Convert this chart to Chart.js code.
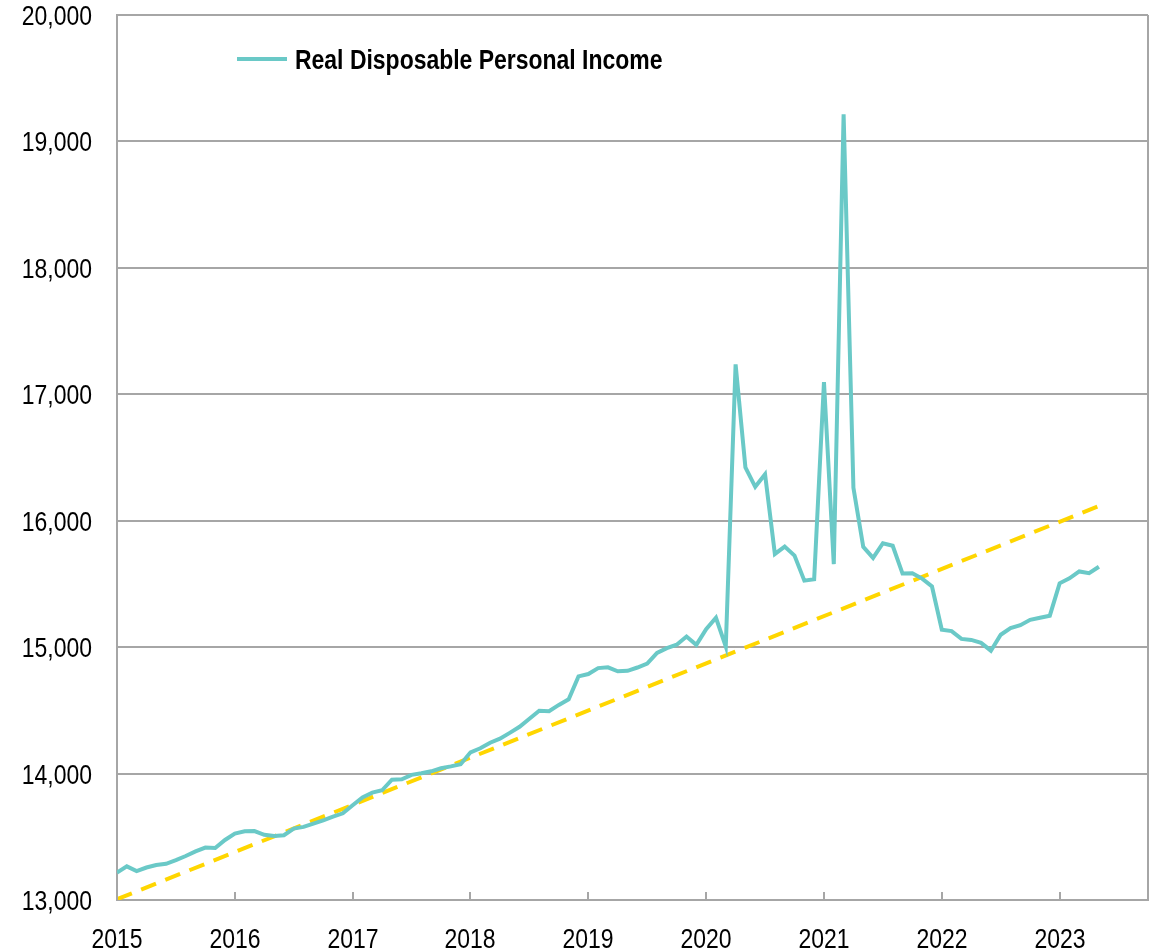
<!DOCTYPE html>
<html>
<head>
<meta charset="utf-8">
<title>Real Disposable Personal Income</title>
<script src="https://cdn.jsdelivr.net/npm/chart.js@4.4.1/dist/chart.umd.min.js"></script>
<style>
    html, body { margin: 0; padding: 0; background: #fff; }
    #wrap { width: 1160px; height: 951px; position: relative; }
</style>
</head>
<body>
<div id="wrap"><canvas id="incomeChart"></canvas></div>
<script>
// 数据：2015年1月起的月度数据（索引0 = 2015-01）
const years = ['2015', '2016', '2017', '2018', '2019', '2020', '2021', '2022', '2023'];
const yTicks = [13000, 14000, 15000, 16000, 17000, 18000, 19000, 20000];

const income = [
    13216, 13266, 13229, 13257, 13277, 13286, 13316, 13348, 13385, 13415, 13411, 13475,
    13525, 13543, 13545, 13516, 13506, 13512, 13565, 13578, 13604, 13630, 13659, 13686,
    13750, 13812, 13849, 13868, 13952, 13955, 13990, 14003, 14018, 14042, 14057, 14074,
    14168, 14200, 14244, 14276, 14322, 14370, 14434, 14497, 14493, 14543, 14588, 14769,
    14787, 14834, 14840, 14809, 14813, 14839, 14870, 14955, 14992, 15019, 15084, 15018,
    15142, 15232, 15005, 17237, 16421, 16268, 16368, 15737, 15795, 15724, 15526, 15537,
    17097, 15656, 19214, 16260, 15794, 15706, 15822, 15802, 15582, 15585, 15542, 15480,
    15138, 15127, 15065, 15057, 15034, 14972, 15098, 15150, 15174, 15216, 15233, 15249,
    15505, 15544, 15599, 15585, 15636
];

// 趋势线（虚线）：只给出起点和终点
const trendIndex = [0, 100];
const trendValues = [13006, 16116];

const seriesLabel = 'Real Disposable Personal Income';
const teal = 'rgb(106, 201, 199)';
const gold = 'rgb(255, 214, 0)';
const gridGray = '#a6a6a6';
// 没有 Arial Narrow，用 Liberation Sans 横向压缩代替
const fontFamily = "'Liberation Sans', Arial, sans-serif";
const narrow = 0.82;

function drawNarrowText(ctx, text, x, y, align, font) {
    ctx.save();
    ctx.font = font;
    ctx.fillStyle = '#000';
    ctx.textAlign = align;
    ctx.textBaseline = 'alphabetic';
    ctx.translate(x, y);
    ctx.scale(narrow, 1);
    ctx.fillText(text, 0, 0);
    ctx.restore();
}

// 图内图例 + 右边框 + 内侧刻度 + 坐标轴文字
const framePlugin = {
    id: 'framePlugin',
    afterDraw(chart) {
        const ctx = chart.ctx;
        const area = chart.chartArea;
        const xScale = chart.scales.x;
        const yScale = chart.scales.y;

        ctx.save();
        // 右边框
        ctx.strokeStyle = gridGray;
        ctx.lineWidth = 2;
        ctx.beginPath();
        ctx.moveTo(area.right, area.top);
        ctx.lineTo(area.right, area.bottom);
        ctx.stroke();

        // x轴内侧刻度和年份
        years.forEach(function(y, k) {
            const px = Math.round(xScale.getPixelForValue(k * 12));
            ctx.beginPath();
            ctx.moveTo(px, area.bottom);
            ctx.lineTo(px, area.bottom - 8);
            ctx.stroke();
            drawNarrowText(ctx, y, px, area.bottom + 48, 'center', '28px ' + fontFamily);
        });

        // y轴数字
        yTicks.forEach(function(v) {
            const py = yScale.getPixelForValue(v);
            drawNarrowText(ctx, v.toLocaleString('en-US'), area.left - 25, py + 10, 'right', '28px ' + fontFamily);
        });

        // 图例
        const lx = area.left + 120;
        const ly = area.top + 44;
        ctx.strokeStyle = teal;
        ctx.lineWidth = 4;
        ctx.beginPath();
        ctx.moveTo(lx, ly);
        ctx.lineTo(lx + 50, ly);
        ctx.stroke();
        drawNarrowText(ctx, seriesLabel, lx + 58, ly + 10, 'left', 'bold 28px ' + fontFamily);
        ctx.restore();
    }
};

document.addEventListener('DOMContentLoaded', function() {
    const ctx = document.getElementById('incomeChart').getContext('2d');

    new Chart(ctx, {
        type: 'line',
        data: {
            datasets: [
                {
                    label: seriesLabel,
                    data: income.map(function(v, i) { return { x: i, y: v }; }),
                    borderColor: teal,
                    borderWidth: 4,
                    pointRadius: 0,
                    tension: 0,
                    order: 1
                },
                {
                    label: 'Trend',
                    data: trendIndex.map(function(x, i) { return { x: x, y: trendValues[i] }; }),
                    borderColor: gold,
                    borderWidth: 4,
                    borderDash: [16, 10],
                    pointRadius: 0,
                    order: 2
                }
            ]
        },
        options: {
            responsive: true,
            maintainAspectRatio: false,
            animation: false,
            layout: {
                padding: { top: 15, right: 12, left: 0, bottom: 0 }
            },
            plugins: {
                legend: { display: false },
                tooltip: { enabled: false }
            },
            scales: {
                x: {
                    type: 'linear',
                    min: 0,
                    max: 105,
                    afterBuildTicks: function(scale) {
                        scale.ticks = years.map(function(y, k) { return { value: k * 12 }; });
                    },
                    afterFit: function(scale) { scale.height = 51; },
                    ticks: { display: false },
                    grid: { display: false },
                    border: { display: true, color: gridGray, width: 2 }
                },
                y: {
                    min: 13000,
                    max: 20000,
                    afterBuildTicks: function(scale) {
                        scale.ticks = yTicks.map(function(v) { return { value: v }; });
                    },
                    afterFit: function(scale) { scale.width = 117; },
                    ticks: { display: false },
                    grid: { color: gridGray, lineWidth: 2, drawTicks: false },
                    border: { display: true, color: gridGray, width: 2 }
                }
            }
        },
        plugins: [framePlugin]
    });
});
</script>
</body>
</html>
